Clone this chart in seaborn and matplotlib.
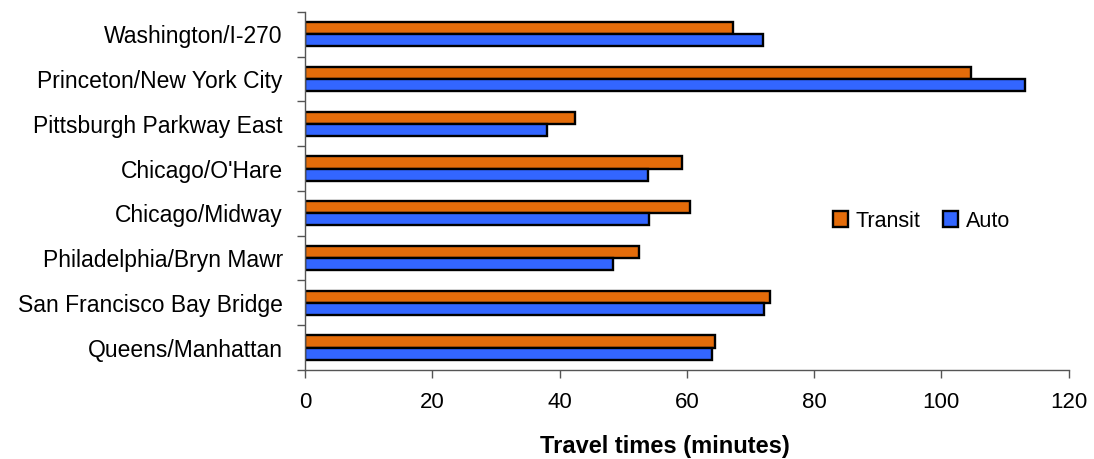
import matplotlib
matplotlib.use("Agg")
import matplotlib.pyplot as plt
import seaborn as sns
import pandas as pd
import numpy as np

# Travel time comparison by corridor
corridors = [
    "Washington/I-270",
    "Princeton/New York City",
    "Pittsburgh Parkway East",
    "Chicago/O'Hare",
    "Chicago/Midway",
    "Philadelphia/Bryn Mawr",
    "San Francisco Bay Bridge",
    "Queens/Manhattan",
]
transit_minutes = [67.2, 104.6, 42.4, 59.2, 60.5, 52.5, 73.0, 64.4]
auto_minutes = [71.9, 113.2, 38.0, 53.9, 54.0, 48.4, 72.2, 63.9]
modes = ["Transit", "Auto"]
x_ticks = [0, 20, 40, 60, 80, 100, 120]

df = pd.DataFrame({
    "corridor": corridors * 2,
    "mode": ["Transit"] * len(corridors) + ["Auto"] * len(corridors),
    "minutes": transit_minutes + auto_minutes,
})

sns.set_style("white")
plt.rcParams["font.family"] = ["Liberation Sans", "DejaVu Sans"]
plt.rcParams["text.color"] = "black"
plt.rcParams["axes.labelcolor"] = "black"

fig = plt.figure(figsize=(10.94, 4.59), dpi=100)
ax = fig.add_axes([0.2788, 0.194, 0.698, 0.780])

palette = {"Transit": "#E46C0A", "Auto": "#3366FF"}
sns.barplot(
    data=df, y="corridor", x="minutes", hue="mode",
    order=corridors, hue_order=modes, palette=palette,
    orient="h", width=0.54, dodge=True, saturation=1,
    edgecolor="black", linewidth=1.7, ax=ax,
)

ax.set_xlim(0, 120)
ax.set_ylim(len(corridors) - 0.5, -0.5)
ax.set_xticks(x_ticks)
ax.set_xticklabels([str(t) for t in x_ticks], fontsize=16)

# category labels centred, tick marks at category boundaries
ax.set_yticks(np.arange(len(corridors)))
ax.set_yticklabels(corridors, fontsize=16.5)
ax.set_yticks(np.arange(len(corridors) + 1) - 0.5, minor=True)
ax.tick_params(axis="y", which="major", length=0, pad=16, labelcolor="black")
ax.tick_params(axis="y", which="minor", length=6, width=1, color="#555555", left=True)
ax.tick_params(axis="x", which="major", length=6, width=1, color="#555555",
               bottom=True, pad=10, labelcolor="black")

for side in ["top", "right"]:
    ax.spines[side].set_visible(False)
for side in ["left", "bottom"]:
    ax.spines[side].set_color("#555555")
    ax.spines[side].set_linewidth(1)

ax.set_ylabel("")
ax.set_xlabel("Travel times (minutes)", fontsize=17, fontweight="bold",
              labelpad=16, color="black")
ax.xaxis.label.set_x(0.471)

ax.legend(
    loc="center left", bbox_to_anchor=(0.68, 0.416), ncol=2, frameon=False,
    fontsize=15.5, handlelength=0.7, handleheight=0.7, handletextpad=0.35,
    columnspacing=1.05, borderaxespad=0,
)

fig.savefig("out.png", dpi=100)
